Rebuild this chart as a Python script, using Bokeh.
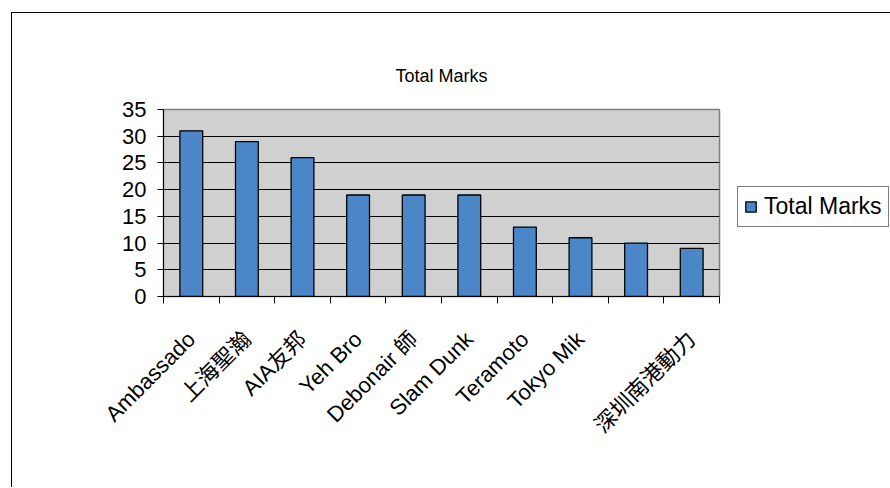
from math import pi
from bokeh.plotting import figure
from bokeh.models import Range1d, FixedTicker, Legend, LegendItem, Title, ColumnDataSource
from bokeh.embed import file_html
from bokeh.resources import INLINE

# ---- data ----
names = ["Ambassado", "上海聖瀚", "AIA友邦", "Yeh Bro", "Debonair 師",
         "Slam Dunk", "Teramoto", "Tokyo Mik", "", "深圳南港動力"]
marks = [31, 29, 26, 19, 19, 19, 13, 11, 10, 9]
y_ticks = [0, 5, 10, 15, 20, 25, 30, 35]
series_name = "Total Marks"
chart_title = "Total Marks"

FONT = "Liberation Sans, Noto Sans CJK TC"

pos = list(range(1, len(names) + 1))
source = ColumnDataSource(dict(x=pos, top=marks, name=names))

p = figure(frame_width=556, frame_height=187,
           x_range=Range1d(0.5, len(names) + 0.5),
           y_range=Range1d(y_ticks[0], y_ticks[-1]),
           output_backend="svg", toolbar_location=None,
           min_border_left=151, min_border_right=170,
           min_border_top=96, min_border_bottom=191)
p.styles = {"margin-left": "11px", "margin-top": "12px",
            "border-left": "1px solid #000", "border-top": "1px solid #000"}

p.background_fill_color = "#D0D0D0"
p.border_fill_color = "white"
p.outline_line_color = "#808080"
p.outline_line_width = 1.5

bars = p.vbar(x="x", top="top", width=0.41, source=source,
              fill_color="#4A86C8", line_color="black", line_width=1.3)

# grid
p.xgrid.visible = False
p.ygrid.ticker = FixedTicker(ticks=y_ticks)
p.ygrid.grid_line_color = "black"
p.ygrid.grid_line_width = 1

# y axis
ya = p.yaxis[0]
ya.ticker = FixedTicker(ticks=y_ticks)
ya.major_tick_in = 0
ya.major_tick_out = 6
ya.minor_tick_line_color = None
ya.axis_line_color = "black"
ya.major_tick_line_color = "black"
ya.major_label_text_font = FONT
ya.major_label_text_font_size = "22px"
ya.major_label_text_color = "black"
ya.major_label_standoff = 11

# x axis
xa = p.xaxis[0]
xa.ticker = FixedTicker(ticks=pos, minor_ticks=[i + 0.5 for i in range(len(names) + 1)])
xa.major_label_overrides = {i + 1: n for i, n in enumerate(names)}
xa.major_tick_line_color = None
xa.minor_tick_line_color = "black"
xa.minor_tick_in = 0
xa.minor_tick_out = 7
xa.axis_line_color = "black"
xa.major_label_orientation = pi / 4
xa.major_label_text_font = FONT
xa.major_label_text_font_size = "22px"
xa.major_label_text_color = "black"
xa.major_label_standoff = 32

# title
t = Title(text=chart_title, align="center", text_font=FONT,
          text_font_size="18px", text_font_style="normal", text_color="black",
          standoff=48)
p.add_layout(t, "above")

# legend
legend = Legend(items=[LegendItem(label=series_name, renderers=[bars])],
                location=(18, 69), orientation="vertical",
                border_line_color="black", border_line_width=1,
                background_fill_color="white", background_fill_alpha=1,
                label_text_font=FONT, label_text_font_size="23px",
                label_text_color="black",
                glyph_width=13, glyph_height=13, label_standoff=7,
                padding=6, margin=0, spacing=0)
p.add_layout(legend, "right")

open("out.html", "w").write(file_html(p, INLINE))
